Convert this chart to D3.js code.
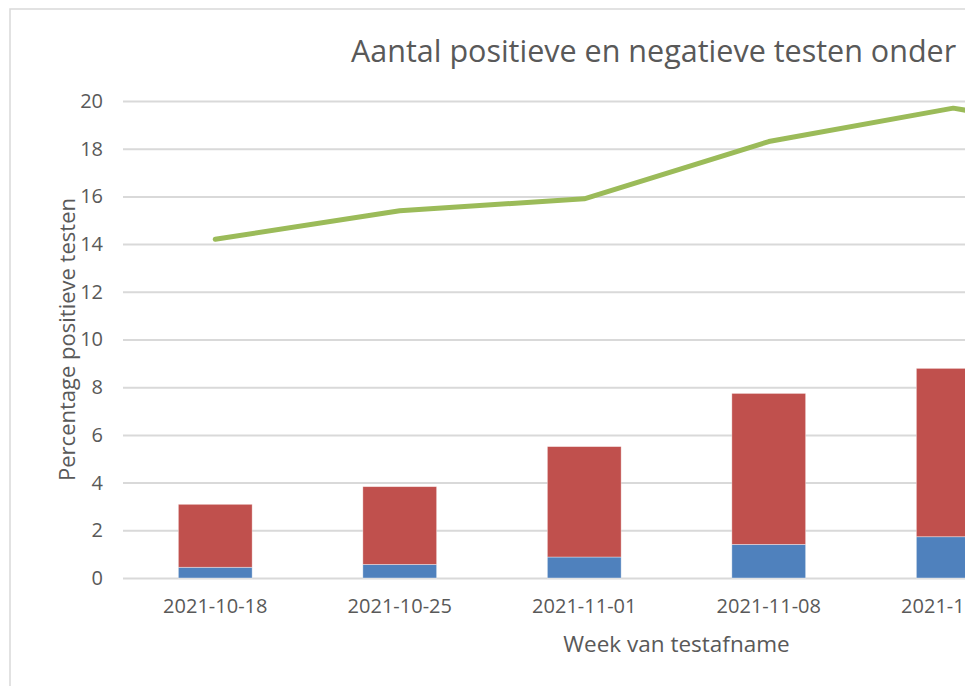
<!DOCTYPE html>
<html>
<head>
<meta charset="utf-8">
<script src="https://cdn.jsdelivr.net/npm/d3@7"></script>
<style>
  body { margin: 0; background: #fff; }
  svg { display: block; font-family: "Open Sans", sans-serif; }
</style>
</head>
<body>
<div id="chart"></div>
<script>
// week of test (categories)
const weeks = ["2021-10-18", "2021-10-25", "2021-11-01", "2021-11-08", "2021-11-15", "2021-11-22"];
// stacked bars: positive (blue) and negative (red)
const positieve = [0.45, 0.57, 0.88, 1.41, 1.73, 1.9];
const negatieve = [2.64, 3.26, 4.63, 6.33, 7.06, 7.5];
// line: percentage positive tests
const percentage = [14.2, 15.4, 15.9, 18.3, 19.7, 18.4];
const yTicks = [0, 2, 4, 6, 8, 10, 12, 14, 16, 18, 20];

const titleText = "Aantal positieve en negatieve testen onder";
const xLabelText = "Week van testafname";
const yLabelText = "Percentage positieve testen";

const width = 965, height = 686;
const margin = { left: 123, top: 101, bottom: 578 };
const plotRight = margin.left + 184.5 * weeks.length;
const textColor = "#595959";

const svg = d3.select("#chart")
  .append("svg")
  .attr("width", width)
  .attr("height", height);

svg.append("rect")
  .attr("width", width).attr("height", height)
  .attr("fill", "#fff");

// chart area border (cut off at right and bottom)
svg.append("rect")
  .attr("x", 10).attr("y", 9)
  .attr("width", 2000).attr("height", 2000)
  .attr("fill", "none")
  .attr("stroke", "#d9d9d9")
  .attr("stroke-width", 1.5);

const x = d3.scaleBand()
  .domain(weeks)
  .range([margin.left, plotRight])
  .paddingInner(0.6)
  .paddingOuter(0.3);

const y = d3.scaleLinear()
  .domain([0, 20])
  .range([margin.bottom, margin.top]);

// y axis with gridlines
const yAxis = svg.append("g")
  .attr("transform", "translate(" + margin.left + ",0)")
  .call(d3.axisLeft(y).tickValues(yTicks).tickSize(-(plotRight - margin.left)).tickPadding(20));
yAxis.select(".domain").remove();
yAxis.selectAll(".tick line")
  .attr("stroke", "#d9d9d9")
  .attr("stroke-width", 2);
yAxis.selectAll("text")
  .attr("fill", textColor)
  .style("font-size", "20px")
  .style("font-family", "Open Sans");

// x axis labels
const xAxis = svg.append("g")
  .attr("transform", "translate(0," + margin.bottom + ")")
  .call(d3.axisBottom(x).tickSize(0).tickPadding(21));
xAxis.select(".domain").remove();
xAxis.selectAll("text")
  .attr("fill", textColor)
  .style("font-size", "20px")
  .style("font-family", "Open Sans");

const rows = weeks.map((w, i) => ({ week: w, pos: positieve[i], neg: negatieve[i], pct: percentage[i] }));

// stacked bars
svg.selectAll(".bar-pos")
  .data(rows)
  .join("rect")
  .attr("class", "bar-pos")
  .attr("x", (d) => x(d.week))
  .attr("y", (d) => y(d.pos))
  .attr("width", x.bandwidth())
  .attr("height", (d) => y(0) - y(d.pos))
  .attr("fill", "#4f81bd")
  .attr("stroke", "#ffffff")
  .attr("stroke-opacity", 0.5)
  .attr("stroke-width", 0.75);

svg.selectAll(".bar-neg")
  .data(rows)
  .join("rect")
  .attr("class", "bar-neg")
  .attr("x", (d) => x(d.week))
  .attr("y", (d) => y(d.pos + d.neg))
  .attr("width", x.bandwidth())
  .attr("height", (d) => y(d.pos) - y(d.pos + d.neg))
  .attr("fill", "#c0504d")
  .attr("stroke", "#ffffff")
  .attr("stroke-opacity", 0.5)
  .attr("stroke-width", 0.75);

// percentage line
const line = d3.line()
  .x((d) => x(d.week) + x.bandwidth() / 2)
  .y((d) => y(d.pct));

svg.append("path")
  .datum(rows)
  .attr("d", line)
  .attr("fill", "none")
  .attr("stroke", "#9bbb59")
  .attr("stroke-width", 5)
  .attr("stroke-linejoin", "round")
  .attr("stroke-linecap", "round");

// title
svg.append("text")
  .attr("x", 351)
  .attr("y", 62)
  .attr("fill", textColor)
  .style("font-size", "30.5px")
  .text(titleText);

// x axis label
svg.append("text")
  .attr("x", (margin.left + plotRight) / 2)
  .attr("y", 652)
  .attr("text-anchor", "middle")
  .attr("fill", textColor)
  .style("font-size", "22.5px")
  .text(xLabelText);

// y axis label
svg.append("text")
  .attr("transform", "translate(75," + (margin.top + margin.bottom) / 2 + ") rotate(-90)")
  .attr("text-anchor", "middle")
  .attr("fill", textColor)
  .style("font-size", "22px")
  .text(yLabelText);
</script>
</body>
</html>
